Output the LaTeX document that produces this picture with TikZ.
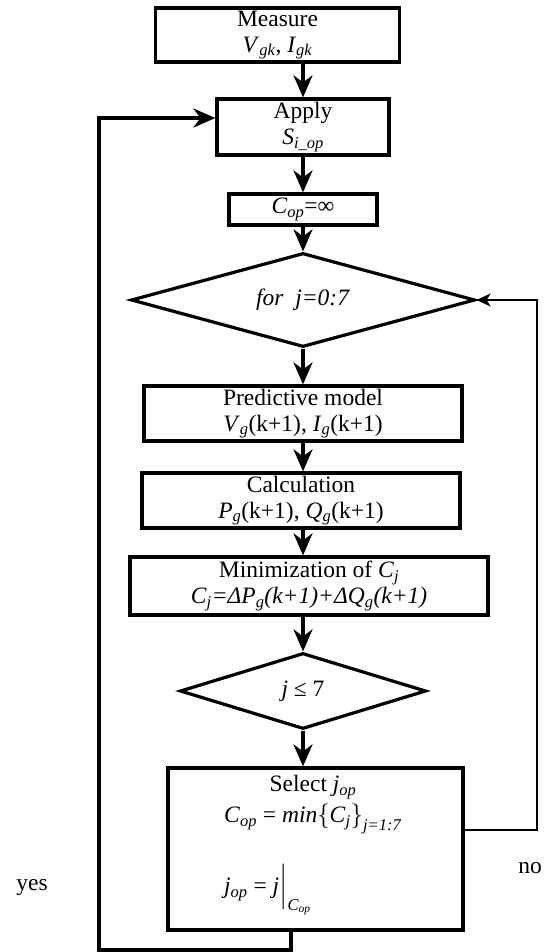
\documentclass[tikz,border=0pt]{standalone}
\usepackage{amsmath}
\usepackage{fontspec}
\setmainfont{Liberation Serif}
\usetikzlibrary{shapes.geometric,arrows.meta,calc}
\newcommand{\isub}[2]{\textit{#1}\textsubscript{\textit{#2}}}
\tikzset{
  stepbox/.style={
    draw,
    line width=3.2pt,
    shape=rectangle,
    inner sep=0pt,
    align=center
  },
  decide/.style={
    draw,
    line width=3.2pt,
    shape=diamond,
    inner sep=0pt
  },
  flow/.style={
    line width=3.2pt,
    -{Stealth[length=22pt,width=19pt,inset=7pt]}
  },
  backflow/.style={
    line width=2.4pt,
    -{Stealth[length=14pt,width=13pt,inset=4pt]}
  },
  every picture/.style={
    font=\fontsize{23.5}{26}\selectfont
  }
}
\begin{document}
\begin{tikzpicture}[x=1pt,y=-1pt]
  \useasboundingbox (0,0) rectangle (553,952);
  % boxes
  \node[stepbox, minimum width=244pt, minimum height=54pt] (measure) at (277.5,35) {Measure\\\isub{V}{gk}, \isub{I}{gk}};
  \node[stepbox, minimum width=172pt, minimum height=56pt] (apply) at (303,127) {Apply\\\isub{S}{i\_op}};
  \node[stepbox, minimum width=148pt, minimum height=31pt] (cinit) at (303,209.5) {\isub{C}{op}=∞};
  \node[decide, aspect=3.66, minimum width=344pt, minimum height=94pt] (forloop) at (303,300) {\textit{for\ \ j=0:7}};
  \node[stepbox, minimum width=318pt, minimum height=55pt] (predict) at (303,413.5) {Predictive model\\\isub{V}{g}(k+1), \isub{I}{g}(k+1)};
  \node[stepbox, minimum width=318pt, minimum height=55pt] (calc) at (301,500.5) {Calculation\\\isub{P}{g}(k+1), \isub{Q}{g}(k+1)};
  \node[stepbox, minimum width=358pt, minimum height=58pt] (minim) at (309,586) {Minimization of \isub{C}{j}\\\isub{C}{j}\textit{=ΔP}\textsubscript{\textit{g}}\textit{(k+1)+ΔQ}\textsubscript{\textit{g}}\textit{(k+1)}};
  \node[decide, aspect=3.24, minimum width=246pt, minimum height=76pt] (jcheck) at (303,691) {\textit{j} ≤ 7};
  \node[stepbox, minimum width=295pt, minimum height=162pt] (select) at (315.5,849) {};
  \node (selhead) at (313,787) {Select \isub{j}{op}};
  \node[anchor=west, inner sep=0pt] (selcost) at (224,819) {\isub{C}{op} = \textit{min}$\left\{\text{\isub{C}{j}}\right\}_{\text{\itshape j=1:7}}$};
  \node[anchor=west, inner sep=0pt] (seljop) at (224,890) {\isub{j}{op} = \textit{j}$\Big|_{\text{\isub{C}{op}}}$};
  % labels
  \node (yes) at (32,887) {yes};
  \node (no) at (530,868) {no};
  % turning points of the loops
  \coordinate (yesdrop) at (291,950);
  \coordinate (yescorner) at (99,950);
  \coordinate (yestop) at (99,118);
  \coordinate (noturn) at (537,830);
  % main flow
  \draw[flow] (measure.south -| apply.north) -- (apply.north);
  \draw[flow] (apply.south) -- (cinit.north);
  \draw[flow] (cinit.south) -- (forloop.north);
  \draw[flow] (forloop.south) -- (predict.north);
  \draw[flow] (predict.south) -- (predict.south |- calc.north);
  \draw[flow] (calc.south -| predict.south) -- (minim.north -| predict.south);
  \draw[flow] (minim.south -| jcheck.north) -- (jcheck.north);
  \draw[flow] (jcheck.south) -- (jcheck.south |- select.north);
  % loops
  \draw[backflow] (select.east |- noturn) -- (noturn) -- (noturn |- forloop.east) -- (forloop.east);
  \draw[flow] (yesdrop |- select.south) -- (yesdrop) -- (yescorner) -- (yestop) -- (apply.west |- yestop);
\end{tikzpicture}
\end{document}
